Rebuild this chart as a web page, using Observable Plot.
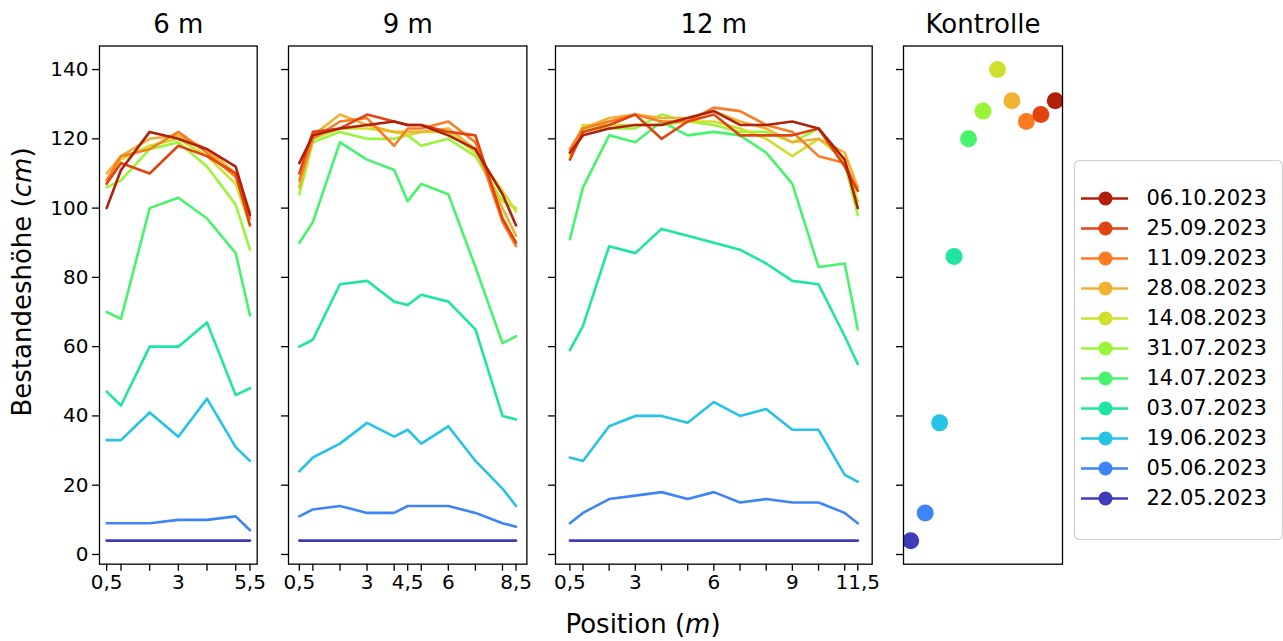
<!DOCTYPE html>
<html>
<head>
<meta charset="utf-8">
<script src="https://cdn.jsdelivr.net/npm/d3@7"></script>
<script src="https://cdn.jsdelivr.net/npm/@observablehq/plot@0.6"></script>
<style>
  html, body { margin: 0; padding: 0; background: #fff; }
  #fig { position: relative; width: 1283px; height: 641px; font-family: "DejaVu Sans", sans-serif; color: #000; overflow: hidden; }
  #fig > svg, #fig > figure { position: absolute; top: 0; margin: 0; }
  .lab { position: absolute; font-size: 26px; white-space: nowrap; line-height: 1.1; }
  .lab i { font-style: oblique; }
</style>
</head>
<body>
<div id="fig"></div>
<script>
// Measurement dates (chronological order)
const dates = ["22.05.2023", "05.06.2023", "19.06.2023", "03.07.2023", "14.07.2023", "31.07.2023",
               "14.08.2023", "28.08.2023", "11.09.2023", "25.09.2023", "06.10.2023"];
const palette = ["#3e3cba", "#3d85f6", "#25c3e6", "#1fe5a2", "#48f36c", "#9af43a",
                 "#cfe02c", "#f1b233", "#fb7b22", "#e2440f", "#b0200a"];

// Positions along the transect (m)
const pos6 = [0.5, 1, 2, 3, 4, 5, 5.5];
const pos9 = [0.5, 1, 2, 3, 4, 4.5, 5, 6, 7, 8, 8.5];
const pos12 = [0.5, 1, 2, 3, 4, 5, 6, 7, 8, 9, 10, 11, 11.5];

// Stand height (cm), one row per date
const h6 = [
  [4, 4, 4, 4, 4, 4, 4],
  [9, 9, 9, 10, 10, 11, 7],
  [33, 33, 41, 34, 45, 31, 27],
  [47, 43, 60, 60, 67, 46, 48],
  [70, 68, 100, 103, 97, 87, 69],
  [106, 108, 117, 119, 112, 101, 88],
  [108, 114, 118, 120, 115, 107, 95],
  [110, 115, 120, 121, 117, 110, 99],
  [108, 115, 117, 122, 116, 109, 97],
  [107, 113, 110, 118, 115, 110, 95],
  [100, 111, 122, 120, 117, 112, 98]
];
const h9 = [
  [4, 4, 4, 4, 4, 4, 4, 4, 4, 4, 4],
  [11, 13, 14, 12, 12, 14, 14, 14, 12, 9, 8],
  [24, 28, 32, 38, 34, 36, 32, 37, 27, 19, 14],
  [60, 62, 78, 79, 73, 72, 75, 73, 65, 40, 39],
  [90, 96, 119, 114, 111, 102, 107, 104, 83, 61, 63],
  [104, 119, 122, 120, 120, 121, 118, 120, 115, 102, 100],
  [106, 120, 123, 123, 122, 121, 122, 122, 116, 105, 99],
  [106, 121, 127, 124, 122, 122, 122, 123, 117, 100, 92],
  [108, 120, 125, 126, 118, 123, 123, 125, 119, 96, 89],
  [110, 122, 123, 127, 125, 124, 124, 122, 121, 97, 90],
  [113, 121, 123, 124, 125, 124, 124, 121, 117, 104, 95]
];
const h12 = [
  [4, 4, 4, 4, 4, 4, 4, 4, 4, 4, 4, 4, 4],
  [9, 12, 16, 17, 18, 16, 18, 15, 16, 15, 15, 12, 9],
  [28, 27, 37, 40, 40, 38, 44, 40, 42, 36, 36, 23, 21],
  [59, 66, 89, 87, 94, 92, 90, 88, 84, 79, 78, 63, 55],
  [91, 106, 121, 119, 125, 121, 122, 121, 116, 107, 83, 84, 65],
  [115, 123, 123, 123, 127, 125, 124, 122, 122, 119, 123, 113, 98],
  [115, 124, 124, 124, 124, 125, 125, 123, 120, 115, 120, 114, 102],
  [116, 123, 126, 127, 126, 126, 128, 125, 123, 119, 120, 116, 106],
  [117, 123, 125, 127, 125, 125, 129, 128, 124, 122, 115, 113, 105],
  [114, 122, 124, 127, 120, 125, 127, 121, 121, 121, 123, 112, 105],
  [116, 121, 123, 124, 124, 126, 128, 124, 124, 125, 123, 114, 100]
];
// Control plot: one value per date
const hKontrolle = [4, 12, 38, 86, 120, 128, 140, 131, 125, 127, 131];

// Tick labels shown on each x axis
const ticks6 = pos6, labels6 = [0.5, 3, 5.5];
const ticks9 = pos9, labels9 = [0.5, 3, 4.5, 6, 8.5];
const ticks12 = pos12, labels12 = [0.5, 3, 6, 9, 11.5];
const yTicks = [0, 20, 40, 60, 80, 100, 120, 140];

const fig = document.getElementById("fig");
const yDomain = [-2.8, 146.8];
const H = 641, MT = 45.5, MB = H - 563.7;
const color = {domain: dates, range: palette};
const baseStyle = {fontFamily: "DejaVu Sans, sans-serif", fontSize: "20px", color: "#000", background: "transparent", overflow: "visible"};
const comma = d => String(d).replace(".", ",");

function tidy(positions, rows) {
  const out = [];
  rows.forEach((row, i) => row.forEach((h, j) => out.push({date: dates[i], pos: positions[j], h})));
  return out;
}

function place(svg, left) {
  svg.style.left = left + "px";
  fig.appendChild(svg);
}

function panelTitle(title) {
  return Plot.text([title], {frameAnchor: "top", lineAnchor: "middle", dy: -21, fontSize: 26});
}

function panel({title, positions, rows, xDomain, ticks, labels, frameLeft, frameWidth, yLabels}) {
  const ml = yLabels ? frameLeft : 12;
  const chart = Plot.plot({
    width: ml + frameWidth + 2,
    height: H,
    marginLeft: ml, marginRight: 2, marginTop: MT, marginBottom: MB,
    style: baseStyle,
    x: {domain: xDomain},
    y: {domain: yDomain},
    color,
    marks: [
      Plot.line(tidy(positions, rows), {x: "pos", y: "h", z: "date", stroke: "date", strokeWidth: 2.6, strokeLinejoin: "round"}),
      Plot.axisY({ticks: yTicks, tickSize: 7, tickPadding: 4, strokeWidth: 1.3, label: null,
                  tickFormat: yLabels ? (d => String(d)) : (() => "")}),
      Plot.axisX({ticks, tickSize: 7, tickPadding: 4, strokeWidth: 1.3, label: null,
                  tickFormat: d => labels.includes(d) ? comma(d) : ""}),
      Plot.frame({stroke: "#000", strokeWidth: 1.3}),
      panelTitle(title)
    ]
  });
  place(chart, frameLeft - ml);
}

panel({title: "6 m", positions: pos6, rows: h6, xDomain: [0.25, 5.75], ticks: ticks6, labels: labels6,
       frameLeft: 99, frameWidth: 157.7, yLabels: true});
panel({title: "9 m", positions: pos9, rows: h9, xDomain: [0.1, 8.9], ticks: ticks9, labels: labels9,
       frameLeft: 288.3, frameWidth: 238.4, yLabels: false});
panel({title: "12 m", positions: pos12, rows: h12, xDomain: [-0.05, 12.05], ticks: ticks12, labels: labels12,
       frameLeft: 555, frameWidth: 316.7, yLabels: false});

// Control panel: one dot per date, x by date index
{
  const ml = 12, frameLeft = 903, frameWidth = 159;
  const data = hKontrolle.map((h, i) => ({i, date: dates[i], h}));
  const chart = Plot.plot({
    width: ml + frameWidth + 2,
    height: H,
    marginLeft: ml, marginRight: 2, marginTop: MT, marginBottom: MB,
    style: baseStyle,
    x: {domain: [-0.5, dates.length - 0.5], axis: null},
    y: {domain: yDomain},
    color,
    marks: [
      Plot.dot(data, {x: "i", y: "h", fill: "date", r: 8.5, clip: true}),
      Plot.axisY({ticks: yTicks, tickSize: 7, strokeWidth: 1.3, label: null, tickFormat: () => ""}),
      Plot.frame({stroke: "#000", strokeWidth: 1.3}),
      panelTitle("Kontrolle")
    ]
  });
  place(chart, frameLeft - ml);
}

// Legend: newest date on top
{
  const order = dates.slice().reverse();
  const W = 208, LH = 379;
  const legend = Plot.plot({
    width: W, height: LH,
    margin: 0,
    style: {...baseStyle, fontSize: "21px"},
    x: {domain: [0, W], range: [0, W], axis: null},
    y: {type: "point", domain: order, range: [20, 356.7], axis: null},
    color,
    marks: [
      Plot.frame({stroke: "#d0d0d0", strokeWidth: 1.2, fill: "#fff", rx: 5}),
      Plot.ruleY(order, {y: d => d, x1: 7, x2: 54, stroke: d => d, strokeWidth: 2.6}),
      Plot.dot(order, {x: 31, y: d => d, fill: d => d, r: 7}),
      Plot.text(order, {x: 72, y: d => d, text: d => d, textAnchor: "start", fontSize: 21})
    ]
  });
  legend.style.top = "160px";
  place(legend, 1074);
}

// Shared axis labels
const xl = document.createElement("div");
xl.className = "lab";
xl.innerHTML = "Position (<i>m</i>)";
xl.style.left = "643px"; xl.style.top = "624px";
xl.style.transform = "translate(-50%, -50%)";
fig.appendChild(xl);

const yl = document.createElement("div");
yl.className = "lab";
yl.innerHTML = "Bestandeshöhe (<i>cm</i>)";
yl.style.left = "22px"; yl.style.top = "282px";
yl.style.transform = "translate(-50%, -50%) rotate(-90deg)";
fig.appendChild(yl);
</script>
</body>
</html>
